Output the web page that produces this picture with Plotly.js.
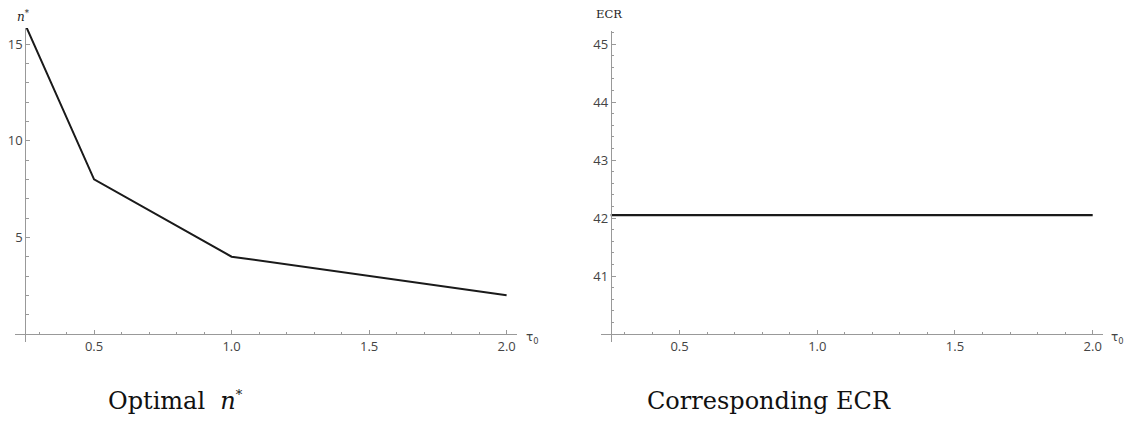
<!DOCTYPE html>
<html>
<head>
<meta charset="utf-8">
<script src="https://cdn.plot.ly/plotly-3.0.1.min.js"></script>
<style>html,body{margin:0;padding:0;background:#fff;}#chart{width:1126px;height:421px;}</style>
</head>
<body>
<div id="chart"></div>
<script>
// ---- data ----
const tau = [0.25, 0.5, 1.0, 2.0];
const nOpt = [16, 8, 4, 2];
const ecr = [42.05, 42.05, 42.05, 42.05];
const xTickVals = [0.5, 1.0, 1.5, 2.0];
const xTickText = ['0.5', '1.0', '1.5', '2.0'];
const nTickVals = [5, 10, 15];
const ecrTickVals = [41, 42, 43, 44, 45];
const captions = ['Optimal\u00a0\u00a0<i>n</i><sup><span style="font-size:13px">*</span></sup>', 'Corresponding ECR'];

const W = 1126, H = 421;
const px = v => v / W;
const py = v => (H - v) / H;

const axisGray = '#999999';
const tickFont = {family: 'Open Sans, sans-serif', size: 13, color: '#444'};

function xAxis(dom, range) {
  return {
    domain: dom, range: range, anchor: 'free', position: py(334),
    showline: true, linecolor: axisGray, linewidth: 1,
    showgrid: false, zeroline: false,
    ticks: 'inside', ticklen: 4, tickcolor: axisGray, tickwidth: 1,
    tickvals: xTickVals, ticktext: xTickText, tickfont: tickFont,
    minor: {dtick: 0.1, tick0: 0, ticks: 'inside', ticklen: 2.5, tickcolor: axisGray, tickwidth: 1},
    fixedrange: true
  };
}
function yAxis(dom, range, pos, vals, minorDt) {
  return {
    domain: dom, range: range, anchor: 'free', position: pos,
    showline: true, linecolor: axisGray, linewidth: 1,
    showgrid: false, zeroline: false,
    ticks: 'inside', ticklen: 4, tickcolor: axisGray, tickwidth: 1,
    tickvals: vals, tickfont: tickFont,
    minor: {dtick: minorDt, tick0: 0, ticks: 'inside', ticklen: 2.5, tickcolor: axisGray, tickwidth: 1},
    fixedrange: true
  };
}

const data = [
  {x: tau, y: nOpt, type: 'scatter', mode: 'lines', xaxis: 'x', yaxis: 'y',
   line: {color: '#1a1a1a', width: 2}, hoverinfo: 'skip'},
  {x: tau, y: ecr, type: 'scatter', mode: 'lines', xaxis: 'x2', yaxis: 'y2',
   line: {color: '#1a1a1a', width: 2.2}, hoverinfo: 'skip'}
];

const layout = {
  width: W, height: H,
  margin: {l: 0, r: 0, t: 0, b: 0},
  paper_bgcolor: '#fff', plot_bgcolor: 'rgba(0,0,0,0)',
  showlegend: false,
  xaxis: xAxis([px(15), px(516.6)], [0.25 - 10.3/275, 2.0 + 10/275]),
  yaxis: yAxis([py(342), py(28)], [-8/19.33, 306/19.33], px(25.3), nTickVals, 1),
  xaxis2: xAxis([px(600.7), px(1102.7)], [0.25 - 10/275.4, 2.0 + 10/275.4]),
  yaxis2: yAxis([py(342), py(31)], [40 - 8/58, 40 + 303/58], px(610.7), ecrTickVals, 0.2),
  annotations: [
    {xref: 'paper', yref: 'paper', x: px(23.5), y: py(16), text: '<i>n</i><sup>*</sup>', showarrow: false,
     xanchor: 'center', yanchor: 'middle', font: {family: 'DejaVu Serif, serif', size: 12, color: '#222'}},
    {xref: 'paper', yref: 'paper', x: px(609), y: py(14), text: 'ECR', showarrow: false,
     xanchor: 'center', yanchor: 'middle', font: {family: 'DejaVu Serif, serif', size: 11.5, color: '#222'}},
    {xref: 'paper', yref: 'paper', x: px(524), y: py(338), text: 'τ<sub>0</sub>', showarrow: false,
     xanchor: 'left', yanchor: 'middle', font: {family: 'DejaVu Sans, sans-serif', size: 12, color: '#444'}},
    {xref: 'paper', yref: 'paper', x: px(1109), y: py(338), text: 'τ<sub>0</sub>', showarrow: false,
     xanchor: 'left', yanchor: 'middle', font: {family: 'DejaVu Sans, sans-serif', size: 12, color: '#444'}},
    {xref: 'paper', yref: 'paper', x: px(175), y: py(401), text: captions[0], showarrow: false,
     xanchor: 'center', yanchor: 'middle', font: {family: 'DejaVu Serif, serif', size: 24, color: '#111'}},
    {xref: 'paper', yref: 'paper', x: px(769), y: py(401), text: captions[1], showarrow: false,
     xanchor: 'center', yanchor: 'middle', font: {family: 'DejaVu Serif, serif', size: 24, color: '#111'}}
  ]
};

Plotly.newPlot('chart', data, layout, {displayModeBar: false, staticPlot: true});
</script>
</body>
</html>
